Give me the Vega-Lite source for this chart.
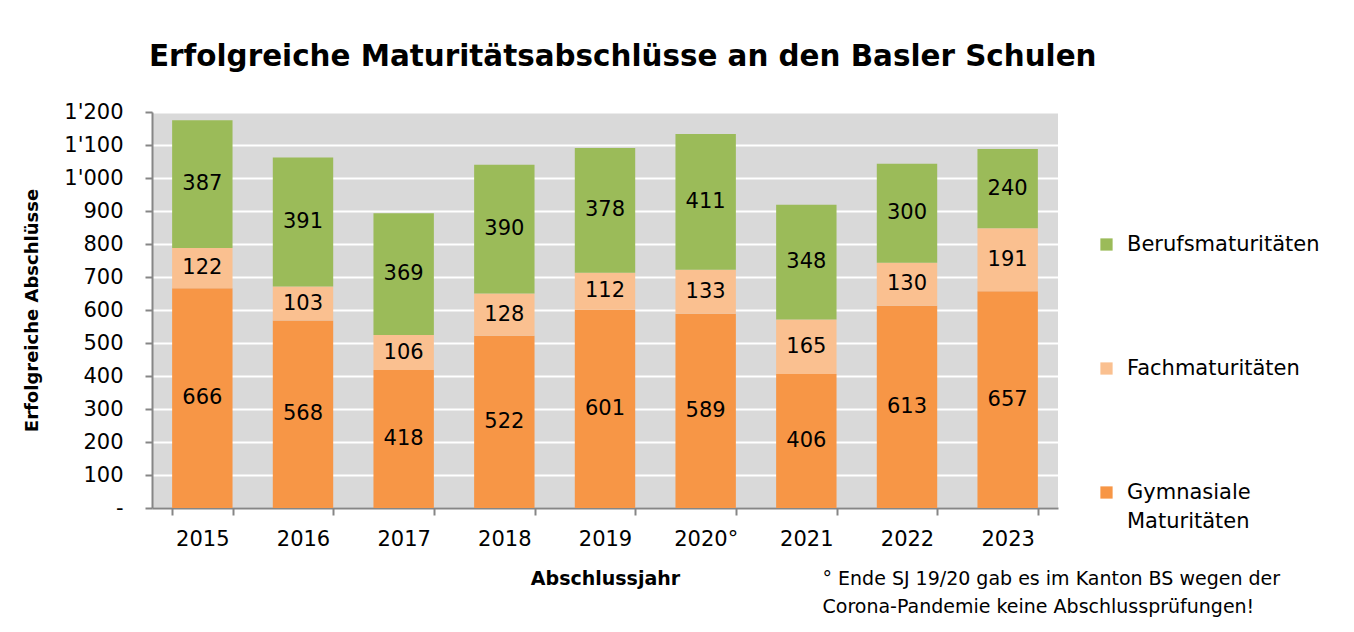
{
  "$schema": "https://vega.github.io/schema/vega-lite/v6.json",
  "width": 906,
  "height": 396,
  "autosize": {"type": "none"},
  "padding": {"left": 152, "top": 112, "right": 296, "bottom": 124},
  "background": "white",
  "title": {
    "text": "Erfolgreiche Maturitätsabschlüsse an den Basler Schulen",
    "font": "DejaVu Sans",
    "fontWeight": "bold",
    "fontSize": 29.4,
    "color": "#000000",
    "anchor": "start",
    "frame": "group",
    "dx": -3,
    "offset": 29
  },
  "config": {
    "font": "DejaVu Sans",
    "view": {"fill": "#D9D9D9", "stroke": null},
    "style": {"guide-label": {"lineHeight": 29}},
    "axis": {
      "domainColor": "#868686",
      "domainWidth": 2,
      "tickColor": "#868686",
      "tickWidth": 2,
      "labelColor": "#000000",
      "titleColor": "#000000",
      "labelFont": "DejaVu Sans",
      "labelFontSize": 21,
      "titleFont": "DejaVu Sans",
      "titleFontWeight": "bold",
      "titleFontSize": 18
    }
  },
  "layer": [
    {
      "data": {
        "values": [
          {"Jahr": "2015", "Typ": "Gymnasiale Maturitäten", "ord": 1, "Anzahl": 666},
          {"Jahr": "2015", "Typ": "Fachmaturitäten", "ord": 2, "Anzahl": 122},
          {"Jahr": "2015", "Typ": "Berufsmaturitäten", "ord": 3, "Anzahl": 387},
          {"Jahr": "2016", "Typ": "Gymnasiale Maturitäten", "ord": 1, "Anzahl": 568},
          {"Jahr": "2016", "Typ": "Fachmaturitäten", "ord": 2, "Anzahl": 103},
          {"Jahr": "2016", "Typ": "Berufsmaturitäten", "ord": 3, "Anzahl": 391},
          {"Jahr": "2017", "Typ": "Gymnasiale Maturitäten", "ord": 1, "Anzahl": 418},
          {"Jahr": "2017", "Typ": "Fachmaturitäten", "ord": 2, "Anzahl": 106},
          {"Jahr": "2017", "Typ": "Berufsmaturitäten", "ord": 3, "Anzahl": 369},
          {"Jahr": "2018", "Typ": "Gymnasiale Maturitäten", "ord": 1, "Anzahl": 522},
          {"Jahr": "2018", "Typ": "Fachmaturitäten", "ord": 2, "Anzahl": 128},
          {"Jahr": "2018", "Typ": "Berufsmaturitäten", "ord": 3, "Anzahl": 390},
          {"Jahr": "2019", "Typ": "Gymnasiale Maturitäten", "ord": 1, "Anzahl": 601},
          {"Jahr": "2019", "Typ": "Fachmaturitäten", "ord": 2, "Anzahl": 112},
          {"Jahr": "2019", "Typ": "Berufsmaturitäten", "ord": 3, "Anzahl": 378},
          {"Jahr": "2020°", "Typ": "Gymnasiale Maturitäten", "ord": 1, "Anzahl": 589},
          {"Jahr": "2020°", "Typ": "Fachmaturitäten", "ord": 2, "Anzahl": 133},
          {"Jahr": "2020°", "Typ": "Berufsmaturitäten", "ord": 3, "Anzahl": 411},
          {"Jahr": "2021", "Typ": "Gymnasiale Maturitäten", "ord": 1, "Anzahl": 406},
          {"Jahr": "2021", "Typ": "Fachmaturitäten", "ord": 2, "Anzahl": 165},
          {"Jahr": "2021", "Typ": "Berufsmaturitäten", "ord": 3, "Anzahl": 348},
          {"Jahr": "2022", "Typ": "Gymnasiale Maturitäten", "ord": 1, "Anzahl": 613},
          {"Jahr": "2022", "Typ": "Fachmaturitäten", "ord": 2, "Anzahl": 130},
          {"Jahr": "2022", "Typ": "Berufsmaturitäten", "ord": 3, "Anzahl": 300},
          {"Jahr": "2023", "Typ": "Gymnasiale Maturitäten", "ord": 1, "Anzahl": 657},
          {"Jahr": "2023", "Typ": "Fachmaturitäten", "ord": 2, "Anzahl": 191},
          {"Jahr": "2023", "Typ": "Berufsmaturitäten", "ord": 3, "Anzahl": 240}
        ]
      },
      "encoding": {
        "x": {
          "field": "Jahr",
          "type": "nominal",
          "sort": null,
          "scale": {"paddingInner": 0.4, "paddingOuter": 0.2},
          "axis": {
            "title": "Abschlussjahr",
            "titleFontSize": 19,
            "labelAngle": 0,
            "tickBand": "extent",
            "tickSize": 7,
            "labelPadding": 13,
            "titlePadding": 20
          }
        },
        "y": {
          "field": "Anzahl",
          "type": "quantitative",
          "stack": "zero",
          "scale": {"domain": [0, 1200]},
          "axis": {
            "title": "Erfolgreiche Abschlüsse",
            "values": [0, 100, 200, 300, 400, 500, 600, 700, 800, 900, 1000, 1100, 1200],
            "labelExpr": "datum.value == 0 ? '-' : replace(format(datum.value, ','), ',', \"'\")",
            "grid": true,
            "gridColor": "#FFFFFF",
            "gridWidth": 2,
            "tickSize": 7,
            "labelPadding": 22,
            "titlePadding": 22
          }
        },
        "order": {"field": "ord", "type": "quantitative", "sort": "ascending"}
      },
      "layer": [
        {
          "mark": {"type": "bar"},
          "encoding": {
            "color": {
              "field": "Typ",
              "type": "nominal",
              "scale": {
                "domain": ["Berufsmaturitäten", "Fachmaturitäten", "Gymnasiale Maturitäten"],
                "range": ["#9BBB59", "#FAC090", "#F79646"]
              },
              "legend": {
                "title": null,
                "orient": "none",
                "legendX": 944,
                "legendY": 122,
                "symbolType": "square",
                "symbolSize": 150,
                "symbolStrokeWidth": 0,
                "labelFont": "DejaVu Sans",
                "labelFontSize": 21,
                "labelColor": "#000000",
                "labelOffset": 10,
                "labelLimit": 300,
                "rowPadding": 102,
                "labelExpr": "datum.label == 'Gymnasiale Maturitäten' ? ['Gymnasiale', 'Maturitäten'] : datum.label"
              }
            }
          }
        },
        {
          "mark": {"type": "text", "font": "DejaVu Sans", "fontSize": 21, "color": "#000000", "baseline": "middle"},
          "encoding": {
            "y": {"field": "Anzahl", "type": "quantitative", "stack": "zero", "bandPosition": 0.5},
            "text": {"field": "Anzahl", "type": "quantitative"}
          }
        }
      ]
    },
    {
      "data": {"values": [{"n": "a"}]},
      "mark": {"type": "text"},
      "encoding": {
        "x": {
          "field": "n",
          "type": "nominal",
          "axis": {
            "orient": "top",
            "domain": false,
            "ticks": false,
            "labels": false,
            "grid": false,
            "title": ["° Ende SJ 19/20 gab es im Kanton BS wegen der", "Corona-Pandemie keine Abschlussprüfungen!"],
            "titleFont": "DejaVu Sans",
            "titleFontWeight": "normal",
            "titleFontSize": 19,
            "titleLineHeight": 28,
            "titleAngle": 0,
            "titleAlign": "left",
            "titleBaseline": "top",
            "titleAnchor": null,
            "titleX": 670,
            "titleY": 457
          }
        },
        "text": {"value": ""}
      }
    }
  ],
  "resolve": {"scale": {"x": "independent"}, "axis": {"x": "independent"}}
}
